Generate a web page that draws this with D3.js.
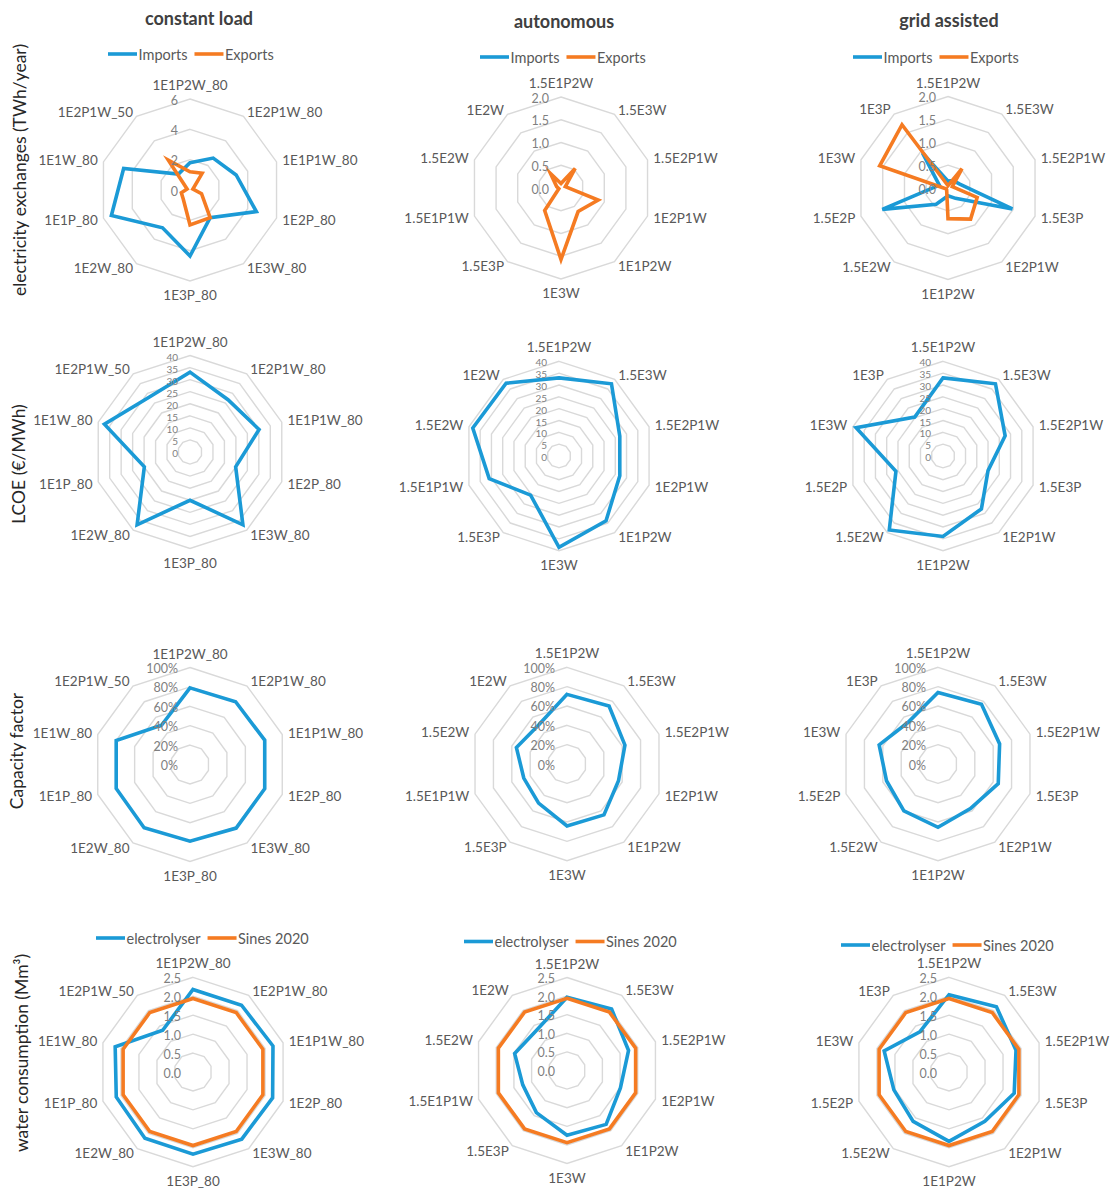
<!DOCTYPE html>
<html>
<head>
<meta charset="utf-8">
<script src="https://cdn.jsdelivr.net/npm/d3@7"></script>
<style>
  body { margin: 0; background: #fff; }
  svg { display: block; }
  text { font-family: Lato, "Open Sans", sans-serif; }
</style>
</head>
<body>
<svg id="chart" width="1110" height="1188"></svg>
<script>
// Scenario names around each radar, clockwise from the top
const categoriesConstant = ["1E1P2W_80", "1E2P1W_80", "1E1P1W_80", "1E2P_80", "1E3W_80", "1E3P_80", "1E2W_80", "1E1P_80", "1E1W_80", "1E2P1W_50"];
const categoriesAutonomous = ["1.5E1P2W", "1.5E3W", "1.5E2P1W", "1E2P1W", "1E1P2W", "1E3W", "1.5E3P", "1.5E1P1W", "1.5E2W", "1E2W"];
const categoriesGrid = ["1.5E1P2W", "1.5E3W", "1.5E2P1W", "1.5E3P", "1E2P1W", "1E1P2W", "1.5E2W", "1.5E2P", "1E3W", "1E3P"];

const columnTitles = ["constant load", "autonomous", "grid assisted"];
const rowTitles = ["electricity exchanges (TWh/year)", "LCOE (€/MWh)", "Capacity factor", "water consumption (Mm³)"];

// Electricity exchanges (TWh/year)
const exchangeConstantImports = [1.8, 2.6, 3.2, 4.6, 2.26, 4.35, 3.08, 5.45, 4.6, 1.3];
const exchangeConstantExports = [1.2, 1.36, 0.2, 0.8, 2.26, 2.3, 0.75, 0.6, 0.2, 2.43];
const exchangeAutonomousImports = [0, 0, 0, 0, 0, 0, 0, 0, 0, 0];
const exchangeAutonomousExports = [0.1, 0.53, 0.1, 0.86, 0.64, 1.57, 0.61, 0.05, 0.1, 0.39];
const exchangeGridImports = [0.15, 0.2, 0.27, 1.48, 0.28, 0.17, 0.44, 1.51, 0.2, 0.95];
const exchangeGridExports = [0.05, 0.52, 0.1, 0.67, 0.84, 0.67, 0.05, 0.05, 1.57, 1.71];

// Levelised cost of electricity (€/MWh)
const lcoeConstant = [33.1, 26.8, 30.1, 19.9, 37.3, 20.0, 37.3, 19.9, 37.3, 28.3];
const lcoeAutonomous = [33, 37.7, 27, 27, 33.8, 38.6, 20.4, 31, 38.3, 38];
const lcoeGrid = [33, 37.7, 27.6, 20, 27.6, 34, 38.6, 20.9, 38.6, 20.3];

// Electrolyser capacity factor
const capacityConstant = [0.79, 0.80, 0.81, 0.81, 0.81, 0.79, 0.805, 0.80, 0.80, 0.50];
const capacityAutonomous = [0.72, 0.74, 0.63, 0.56, 0.65, 0.64, 0.50, 0.47, 0.55, 0.50];
const capacityGrid = [0.74, 0.765, 0.67, 0.655, 0.57, 0.655, 0.60, 0.56, 0.64, 0.53];

// Water consumption (Mm³)
const waterConstantElectrolyser = [2.18, 2.18, 2.22, 2.21, 2.19, 2.17, 2.16, 2.13, 2.16, 1.36];
const waterAutonomousElectrolyser = [1.97, 2.04, 1.74, 1.51, 1.79, 1.74, 1.4, 1.25, 1.48, 1.36];
const waterGridElectrolyser = [2.04, 2.13, 1.86, 1.81, 1.61, 1.83, 1.61, 1.53, 1.8, 1.31];
const waterSines2020 = [1.94, 1.94, 1.94, 1.94, 1.94, 1.94, 1.94, 1.94, 1.94, 1.94];

// Radial axis ticks and their labels
const ticksExchangeConstant = [0, 2, 4, 6];
const tickLabelsExchangeConstant = ["0", "2", "4", "6"];
const ticksExchange = [0, 0.5, 1, 1.5, 2];
const tickLabelsExchange = ["0.0", "0.5", "1.0", "1.5", "2.0"];
const ticksLcoe = [0, 5, 10, 15, 20, 25, 30, 35, 40];
const tickLabelsLcoe = ["0", "5", "10", "15", "20", "25", "30", "35", "40"];
const ticksCapacity = [0, 0.2, 0.4, 0.6, 0.8, 1];
const tickLabelsCapacity = ["0%", "20%", "40%", "60%", "80%", "100%"];
const ticksWater = [0, 0.5, 1, 1.5, 2, 2.5];
const tickLabelsWater = ["0.0", "0.5", "1.0", "1.5", "2.0", "2.5"];

const legendExchange = ["Imports", "Exports"];
const legendWater = ["electrolyser", "Sines 2020"];

const BLUE = "#1b9ad6";
const ORANGE = "#f57b22";
const GRID = "#d9d9d9";
const LABEL = "#595959";
const TICK = "#7f7f7f";

const svg = d3.select("#chart");

const panels = [
  { cx: 190, cy: 190, r: 91, cats: categoriesConstant, ticks: ticksExchangeConstant, tickLabels: tickLabelsExchangeConstant,
    series: [exchangeConstantImports, exchangeConstantExports], legend: legendExchange, legendAt: [108, 54] },
  { cx: 561, cy: 188, r: 91, cats: categoriesAutonomous, ticks: ticksExchange, tickLabels: tickLabelsExchange,
    series: [exchangeAutonomousImports, exchangeAutonomousExports], legend: legendExchange, legendAt: [480, 57] },
  { cx: 948, cy: 188, r: 91.5, cats: categoriesGrid, ticks: ticksExchange, tickLabels: tickLabelsExchange,
    series: [exchangeGridImports, exchangeGridExports], legend: legendExchange, legendAt: [853, 57] },

  { cx: 190, cy: 452, r: 96.5, cats: categoriesConstant, ticks: ticksLcoe, tickLabels: tickLabelsLcoe, series: [lcoeConstant], tickSize: 10 },
  { cx: 559, cy: 456, r: 94.7, cats: categoriesAutonomous, ticks: ticksLcoe, tickLabels: tickLabelsLcoe, series: [lcoeAutonomous], tickSize: 10 },
  { cx: 943, cy: 456, r: 94.7, cats: categoriesGrid, ticks: ticksLcoe, tickLabels: tickLabelsLcoe, series: [lcoeGrid], tickSize: 10 },

  { cx: 190, cy: 764.5, r: 97, cats: categoriesConstant, ticks: ticksCapacity, tickLabels: tickLabelsCapacity, series: [capacityConstant] },
  { cx: 567, cy: 764, r: 96.7, cats: categoriesAutonomous, ticks: ticksCapacity, tickLabels: tickLabelsCapacity, series: [capacityAutonomous] },
  { cx: 938, cy: 764, r: 96.7, cats: categoriesGrid, ticks: ticksCapacity, tickLabels: tickLabelsCapacity, series: [capacityGrid] },

  { cx: 193, cy: 1072, r: 94.7, cats: categoriesConstant, ticks: ticksWater, tickLabels: tickLabelsWater,
    series: [waterConstantElectrolyser, waterSines2020], legend: legendWater, legendAt: [96, 938] },
  { cx: 567, cy: 1070.5, r: 93, cats: categoriesAutonomous, ticks: ticksWater, tickLabels: tickLabelsWater,
    series: [waterAutonomousElectrolyser, waterSines2020], legend: legendWater, legendAt: [464, 941.5] },
  { cx: 949, cy: 1072, r: 94.7, cats: categoriesGrid, ticks: ticksWater, tickLabels: tickLabelsWater,
    series: [waterGridElectrolyser, waterSines2020], legend: legendWater, legendAt: [841, 945] }
];

const seriesColors = [BLUE, ORANGE];
const step = 2 * Math.PI / 10;

function drawRadar(p) {
  const g = svg.append("g").attr("transform", `translate(${p.cx},${p.cy})`);
  const rScale = d3.scaleLinear().domain([0, d3.max(p.ticks)]).range([0, p.r]);
  const n = p.cats.length;

  const ring = d3.lineRadial()
    .angle((d, i) => i * step)
    .radius(d => rScale(d))
    .curve(d3.curveLinearClosed);

  // concentric decagon gridlines
  p.ticks.filter(t => t > 0).forEach(t => {
    g.append("path")
      .attr("d", ring(d3.range(n).map(() => t)))
      .attr("fill", "none")
      .attr("stroke", GRID)
      .attr("stroke-width", 1.4);
  });

  // category labels outside the outer ring
  p.cats.forEach((name, i) => {
    const a = i * step;
    const s = Math.sin(a), c = Math.cos(a);
    let x = (p.r + 6) * s;
    let y = -(p.r + 6) * c;
    let anchor = Math.abs(s) < 0.1 ? "middle" : (s > 0 ? "start" : "end");
    if (Math.abs(s) < 0.1) y += c > 0 ? -8 : 8;
    g.append("text")
      .attr("x", x).attr("y", y)
      .attr("text-anchor", anchor)
      .attr("dominant-baseline", "central")
      .attr("font-size", 13.5)
      .attr("fill", LABEL)
      .text(name);
  });

  // data polygons
  p.series.forEach((values, k) => {
    g.append("path")
      .attr("d", ring(values))
      .attr("fill", "none")
      .attr("stroke", seriesColors[k])
      .attr("stroke-width", 3.6)
      .attr("stroke-linejoin", "miter")
      .attr("stroke-miterlimit", 6);
  });

  // radial axis labels along the top spoke
  p.ticks.forEach((t, i) => {
    g.append("text")
      .attr("x", -12)
      .attr("y", -rScale(t) + 1)
      .attr("text-anchor", "end")
      .attr("dominant-baseline", "central")
      .attr("font-size", p.tickSize || 12.5)
      .attr("fill", TICK)
      .text(p.tickLabels[i]);
  });

  // legend
  if (p.legend) {
    const lg = svg.append("g").attr("transform", `translate(${p.legendAt[0]},${p.legendAt[1]})`);
    let x = 0;
    p.legend.forEach((name, k) => {
      lg.append("line")
        .attr("x1", x).attr("x2", x + 29)
        .attr("y1", 0).attr("y2", 0)
        .attr("stroke", seriesColors[k])
        .attr("stroke-width", 3.6);
      const t = lg.append("text")
        .attr("x", x + 30.5).attr("y", 0)
        .attr("dominant-baseline", "central")
        .attr("font-size", 14.5)
        .attr("fill", LABEL)
        .text(name);
      x += 30.5 + t.node().getComputedTextLength() + 7;
    });
  }
}

panels.forEach(drawRadar);

// column titles
const titlePos = [[199, 18], [564, 21], [949, 20]];
columnTitles.forEach((t, i) => {
  svg.append("text")
    .attr("x", titlePos[i][0]).attr("y", titlePos[i][1])
    .attr("text-anchor", "middle")
    .attr("dominant-baseline", "central")
    .attr("font-size", 18)
    .attr("font-weight", 700)
    .attr("fill", "#404040")
    .text(t);
});

// row titles, rotated
const rowPos = [[26, 170], [25, 464], [23, 751], [28, 1053]];
rowTitles.forEach((t, i) => {
  svg.append("text")
    .attr("transform", `translate(${rowPos[i][0]},${rowPos[i][1]}) rotate(-90)`)
    .attr("text-anchor", "middle")
    .attr("font-size", 17.5)
    .attr("fill", "#262626")
    .text(t);
});
</script>
</body>
</html>
